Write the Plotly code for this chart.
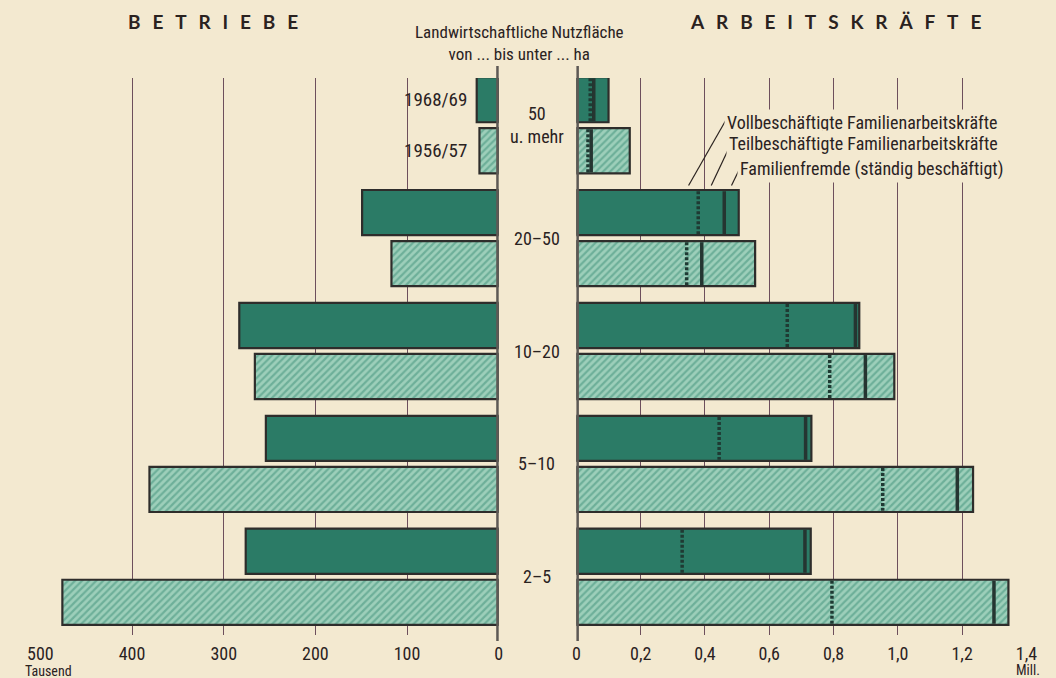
import plotly.graph_objects as go

# ---------------- data ----------------
categories = ["50<br>u. mehr", "20–50", "10–20", "5–10", "2–5"]
years = ["1968/69", "1956/57"]

# Betriebe (Tausend)
betriebe_6869 = [24, 149, 283, 254, 276]
betriebe_5657 = [21, 117, 266, 381, 476]

# Arbeitskräfte (Mill.)
voll_6869 = [0.043, 0.379, 0.656, 0.444, 0.329]
teil_6869 = [0.011, 0.081, 0.212, 0.269, 0.382]
fremd_6869 = [0.046, 0.045, 0.012, 0.018, 0.018]
voll_5657 = [0.036, 0.343, 0.788, 0.953, 0.795]
teil_5657 = [0.010, 0.047, 0.111, 0.232, 0.504]
fremd_5657 = [0.120, 0.166, 0.090, 0.049, 0.045]

left_ticks = [0, 100, 200, 300, 400, 500]
left_ticktext = ["0", "100", "200", "300", "400", "500"]
right_ticks = [0, 0.2, 0.4, 0.6, 0.8, 1.0, 1.2, 1.4]
right_ticktext = ["0", "0,2", "0,4", "0,6", "0,8", "1,0", "1,2", "1,4"]

legend_texts = ["Vollbeschäftigte Familienarbeitskräfte",
                "Teilbeschäftigte Familienarbeitskräfte",
                "Familienfremde (ständig beschäftigt)"]

# ---------------- layout constants ----------------
W, H = 1056, 678
PLOT_TOP, PLOT_BOT = 78, 635
CAT_PX0, CAT_STEP = 125.2, 112.9
OFF = 0.226
BAR_W = 0.40

PAPER = "#f3e9d0"
DARK = "#2b7b66"
LIGHT_BG = "#9dcfba"
LIGHT_FG = "#3e8f78"
OUTLINE = "#2e2d2b"
GRID = "#6d4f5c"
AXISGRAY = "#5d5955"
TEXT = "#2a221f"
FONT = "Liberation Sans Narrow, Roboto Condensed, DejaVu Sans Condensed, Roboto, sans-serif"


def fx(px):
    return px / W


def fy(py):
    return (PLOT_BOT - py) / (PLOT_BOT - PLOT_TOP)


y_top = -(CAT_PX0 - PLOT_TOP) / CAT_STEP
y_bot = (PLOT_BOT - CAT_PX0) / CAT_STEP

idx = list(range(len(categories)))
y_new = [i - OFF for i in idx]
y_old = [i + OFF for i in idx]

tot_6869 = [v + t + f for v, t, f in zip(voll_6869, teil_6869, fremd_6869)]
tot_5657 = [v + t + f for v, t, f in zip(voll_5657, teil_5657, fremd_5657)]

fig = go.Figure()

dark_marker = dict(color=DARK, line=dict(color=OUTLINE, width=2.2))
light_marker = dict(color=LIGHT_BG, line=dict(color=OUTLINE, width=2.2),
                    pattern=dict(shape="/", fgcolor=LIGHT_FG, bgcolor=LIGHT_BG,
                                 size=5, solidity=0.45))

# left bars
fig.add_trace(go.Bar(x=betriebe_6869, y=y_new, orientation="h", width=BAR_W,
                     marker=dark_marker, xaxis="x", yaxis="y", name=years[0],
                     showlegend=False, hoverinfo="x"))
fig.add_trace(go.Bar(x=betriebe_5657, y=y_old, orientation="h", width=BAR_W,
                     marker=light_marker, xaxis="x", yaxis="y", name=years[1],
                     showlegend=False, hoverinfo="x"))
# right bars (totals)
fig.add_trace(go.Bar(x=tot_6869, y=y_new, orientation="h", width=BAR_W,
                     marker=dark_marker, xaxis="x2", yaxis="y", name=years[0],
                     showlegend=False, hoverinfo="x"))
fig.add_trace(go.Bar(x=tot_5657, y=y_old, orientation="h", width=BAR_W,
                     marker=light_marker, xaxis="x2", yaxis="y", name=years[1],
                     showlegend=False, hoverinfo="x"))

# dividers inside right bars
def divider_xy(vals, ys):
    xs, yy = [], []
    h = BAR_W / 2 - 0.01
    for v, yc in zip(vals, ys):
        xs += [v, v, None]
        yy += [yc - h, yc + h, None]
    return xs, yy

cum_6869 = [v + t for v, t in zip(voll_6869, teil_6869)]
cum_5657 = [v + t for v, t in zip(voll_5657, teil_5657)]

for vals, ys in [(voll_6869, y_new), (voll_5657, y_old)]:
    xs, yy = divider_xy(vals, ys)
    fig.add_trace(go.Scatter(x=xs, y=yy, mode="lines", xaxis="x2", yaxis="y",
                             line=dict(color="#1f3a33", width=3.5, dash="3px,2px"),
                             showlegend=False, hoverinfo="skip"))
for vals, ys in [(cum_6869, y_new), (cum_5657, y_old)]:
    xs, yy = divider_xy(vals, ys)
    fig.add_trace(go.Scatter(x=xs, y=yy, mode="lines", xaxis="x2", yaxis="y",
                             line=dict(color="#253531", width=3.5),
                             showlegend=False, hoverinfo="skip"))

axis_common = dict(showgrid=True, gridcolor=GRID, gridwidth=1.3, zeroline=False,
                   showline=False, ticks="outside", ticklen=2,
                   tickcolor="rgba(0,0,0,0)",
                   tickfont=dict(family=FONT, size=18, color=TEXT),
                   fixedrange=True)

fig.update_layout(
    width=W, height=H,
    paper_bgcolor=PAPER, plot_bgcolor="rgba(0,0,0,0)",
    margin=dict(l=0, r=0, t=PLOT_TOP, b=H - PLOT_BOT),
    barmode="overlay",
    showlegend=False,
    xaxis=dict(domain=[fx(28), fx(497)], range=[500, 0], tickvals=left_ticks,
               ticktext=left_ticktext, anchor="y", **axis_common),
    xaxis2=dict(domain=[fx(576.5), fx(1037)], range=[0, 1.4], tickvals=right_ticks,
                ticktext=right_ticktext, anchor="y", **axis_common),
    yaxis=dict(range=[y_bot, y_top], visible=False, fixedrange=True),
)

shapes = []
# zero axis lines
for xr in ["x", "x2"]:
    shapes.append(dict(type="line", xref=xr, yref="paper", x0=0, x1=0,
                       y0=fy(641), y1=fy(66), layer="above",
                       line=dict(color=AXISGRAY, width=5)))

# leader lines from legend texts to the 20–50 (1968/69) bar segments
bar_top = 1 - OFF - BAR_W / 2 - 0.04
leader_targets = [voll_6869[1] - 0.03,
                  voll_6869[1] + teil_6869[1] / 2,
                  cum_6869[1] + fremd_6869[1] / 2]
leader_tops = [(0.467, -0.055), (0.476, 0.193), (0.509, 0.379)]
for tx, (ex, ey) in zip(leader_targets, leader_tops):
    shapes.append(dict(type="line", xref="x2", yref="y", x0=tx, y0=bar_top,
                       x1=ex, y1=ey, layer="above",
                       line=dict(color=TEXT, width=1.2)))
fig.update_layout(shapes=shapes)

SP = "\u2002\u2009"
ann = []
# headings
ann.append(dict(text=SP.join("BETRIEBE"),
                x=fx(205), y=fy(22), xref="paper", yref="paper", showarrow=False,
                xanchor="center", yanchor="middle",
                font=dict(family="Lato, DejaVu Sans, sans-serif", size=19, color=TEXT, weight="bold")))
ann.append(dict(text=SP.join("ARBEITSKRÄFTE"),
                x=fx(842), y=fy(21), xref="paper", yref="paper", showarrow=False,
                xanchor="center", yanchor="middle",
                font=dict(family="Lato, DejaVu Sans, sans-serif", size=19, color=TEXT, weight="bold")))
ann.append(dict(text="Landwirtschaftliche Nutzfläche<br>von ... bis unter ... ha",
                x=fx(518), y=fy(43), xref="paper", yref="paper", showarrow=False,
                xanchor="center", yanchor="middle", align="center",
                font=dict(family=FONT, size=17, color=TEXT)))
# category labels
for i, c in zip(idx, categories):
    ann.append(dict(text=c, x=fx(536), y=i, xref="paper", yref="y", showarrow=False,
                    xanchor="center", yanchor="middle", align="center",
                    font=dict(family=FONT, size=18, color=TEXT)))
# year labels
for yv, t in [(y_new[0], years[0]), (y_old[0], years[1])]:
    ann.append(dict(text=t, x=fx(467), y=yv, xref="paper", yref="y", showarrow=False,
                    xanchor="right", yanchor="middle",
                    font=dict(family=FONT, size=19, color=TEXT)))
# legend texts
for t, lx, ly in zip(legend_texts, [728, 730, 741], [122, 143, 169]):
    ann.append(dict(text=t, x=fx(lx), y=fy(ly), xref="paper", yref="paper",
                    showarrow=False, xanchor="left", yanchor="middle",
                    bgcolor=PAPER, borderpad=2,
                    font=dict(family=FONT, size=18, color=TEXT)))
# units
ann.append(dict(text="Tausend", x=fx(10), y=fy(671), xref="paper", yref="paper",
                showarrow=False, xanchor="left", yanchor="middle",
                font=dict(family=FONT, size=14, color=TEXT)))
ann.append(dict(text="Mill.", x=fx(1053), y=fy(670), xref="paper", yref="paper",
                showarrow=False, xanchor="right", yanchor="middle",
                font=dict(family=FONT, size=14, color=TEXT)))
fig.update_layout(annotations=ann)

fig.write_html("out.html", config={"displayModeBar": False},
               post_script="document.body.style.margin='0';document.body.style.padding='0';"
                           "document.body.style.overflow='hidden';")
